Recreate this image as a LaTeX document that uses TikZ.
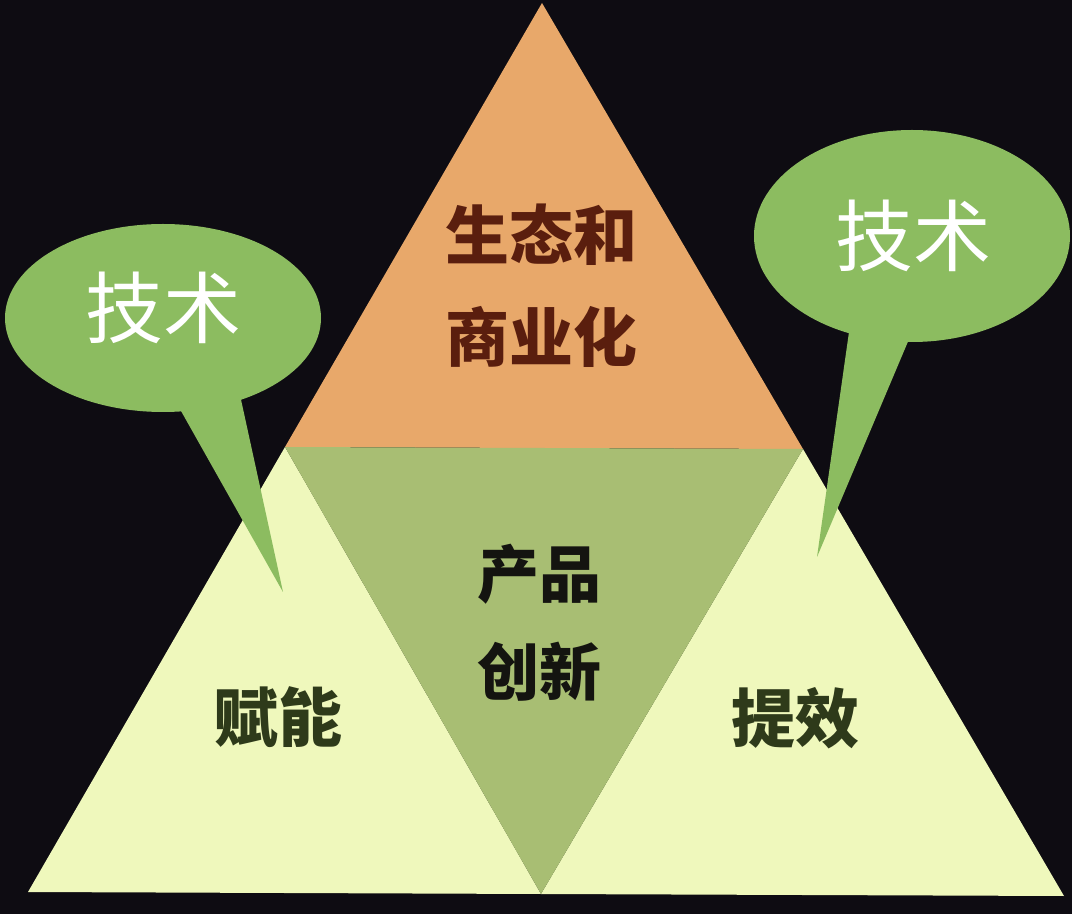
\documentclass[tikz,border=0pt]{standalone}
\usepackage{fontspec}
\newfontfamily\cjk{Noto Sans CJK SC}
\definecolor{bgdark}{HTML}{0E0C12}
\definecolor{toporange}{HTML}{E8A86A}
\definecolor{midgreen}{HTML}{A8BE73}
\definecolor{sidepale}{HTML}{EFF8BC}
\definecolor{bubblegreen}{HTML}{8CBC60}
\definecolor{toptext}{HTML}{5A1E0E}
\definecolor{midtext}{HTML}{141410}
\definecolor{sidetext}{HTML}{2E3A1A}

\begin{document}
\begin{tikzpicture}[x=0.5pt,y=-0.5pt]
\tikzset{
  label/.style={inner sep=0pt,align=center,font=\cjk\bfseries\fontsize{32pt}{51pt}\selectfont},
  bubbletext/.style={inner sep=0pt,text=white,font=\cjk\fontsize{39pt}{40pt}\selectfont},
  bubble/.style={fill=bubblegreen}
}
\fill[bgdark] (0,0) rectangle (1072,914);
\useasboundingbox (0,0) rectangle (1072,914);
% corners of the big triangle
\coordinate (c_top) at (542,3);
\coordinate (c_bl) at (28,892);
\coordinate (c_br) at (1064,896);
\coordinate (c_ml) at (285,447);
\coordinate (c_mr) at (803,449);
\coordinate (c_mb) at (541,894);
\fill[sidepale] (c_ml) -- (c_bl) -- (c_mb) -- cycle;
\fill[sidepale] (c_mr) -- (c_mb) -- (c_br) -- cycle;
\fill[toporange] (c_top) -- (c_ml) -- (c_mr) -- cycle;
\fill[midgreen] (c_ml) -- (c_mr) -- (c_mb) -- cycle;
% speech bubbles
\fill[bubble] (163,318) ellipse [x radius=158, y radius=94];
\fill[bubble] (172,395) -- (283,592) -- (240,395) -- cycle;
\fill[bubble] (912,236) ellipse [x radius=158, y radius=106];
\fill[bubble] (850,325) -- (817,557) -- (915,325) -- cycle;
% texts
\node[label,text=toptext] (n_eco) at (541,286) {生态和\\商业化};
\node[label,text=midtext,font=\cjk\bfseries\fontsize{31pt}{49pt}\selectfont] (n_prod) at (539,623) {产品\\创新};
\node[label,text=sidetext] (n_enable) at (278,717) {赋能};
\node[label,text=sidetext] (n_eff) at (795,718) {提效};
\node[bubbletext] (n_tech_l) at (163,308) {技术};
\node[bubbletext] (n_tech_r) at (913,236) {技术};
\end{tikzpicture}
\end{document}
